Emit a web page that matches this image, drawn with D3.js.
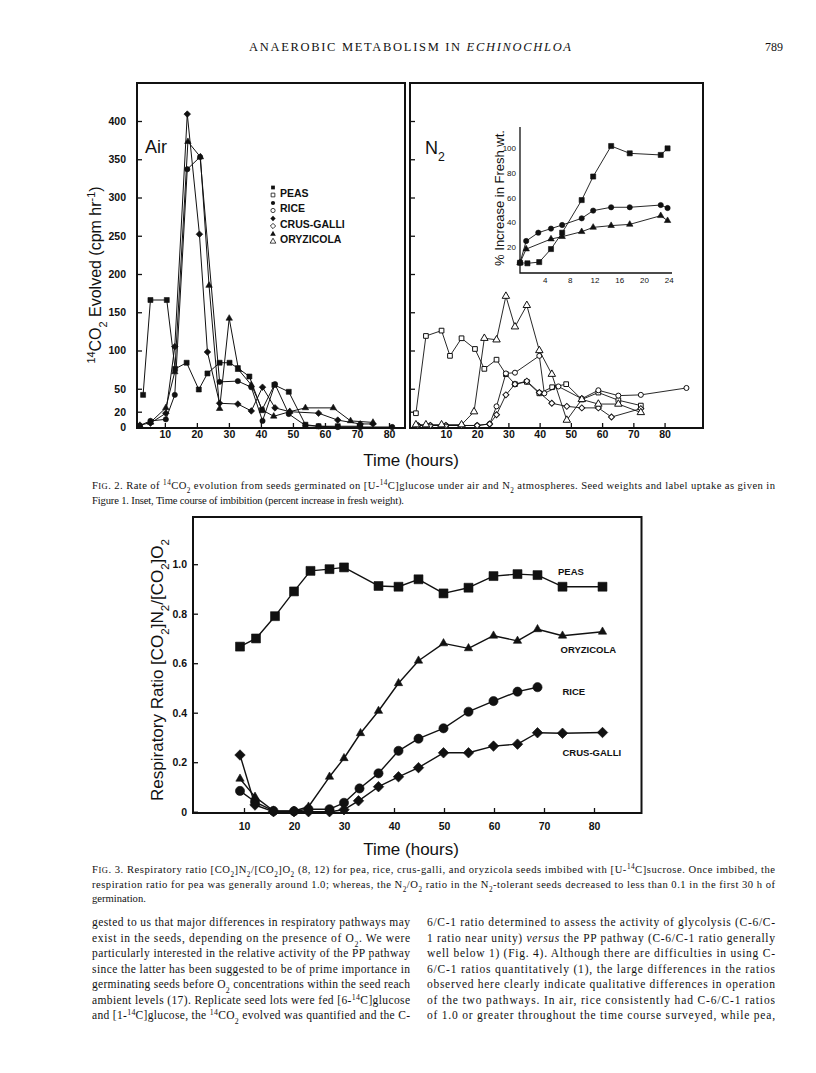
<!DOCTYPE html>
<html><head><meta charset="utf-8">
<script src="https://cdn.jsdelivr.net/npm/d3@7"></script>
<style>body{margin:0;background:#fff} svg{display:block} text{white-space:pre}</style>
</head><body>
<svg id="c" width="816" height="1073"></svg>
<script>
// ---------- DATA ----------
// Fig. 2 axes
const fig2YTicks = [0,20,50,100,150,200,250,300,350,400];
const fig2XTicks = [10,20,30,40,50,60,70,80];
// Fig. 2 Air panel [hour, cpm/hr]
const airPeas = [[3.2,42],[5.5,166],[10.6,166],[13.2,76],[16.8,84],[20.6,49],[23.3,70],[27.1,84],[30.2,84],[32.8,77],[36.4,66],[40.3,22],[44.2,55],[48.7,46],[53.9,3],[58,1],[64,1],[71,1]];
const airRice = [[2.2,2],[5.5,8],[10.3,10],[13.1,42],[17.0,337],[21.0,353],[27.1,59],[32.8,60],[37.0,52],[40.5,8],[44.4,56],[48.7,17],[53.9,2],[58,1],[64,0],[71,0],[81,0]];
const airCrus = [[5.5,5],[10.3,18],[13.1,105],[17.0,409],[20.8,252],[23.3,98],[27.1,31],[32.8,30],[37.0,21],[40.5,52],[44.4,25],[49,20],[58,18],[64,9],[71,4],[75,4]];
const airOry  = [[2.2,2],[5.5,6],[10.3,25],[13.1,72],[17.2,373],[21.1,353],[23.8,185],[27.1,24],[30.1,142],[33,75],[37,55],[40.5,22],[44,14],[49,20],[53.9,25],[62.6,25],[68,8],[75,6]];
// Fig. 2 N2 panel [hour, cpm/hr]
const n2Peas = [[0.4,18],[3.6,119],[8.6,126],[11.3,93],[15,116],[19.3,102],[22.3,76],[26.2,88],[29.2,69],[32.1,56],[35.9,59],[39.9,44],[44,52],[48.5,56],[53.5,36],[58.8,45],[65.2,35],[72.4,28]];
const n2Rice = [[1,2],[5,2],[10,2],[15,2],[20,2],[24,4],[26.2,27],[29.2,70],[32.1,71],[39.9,93],[41.5,44],[46,53],[53.5,37],[58.8,48],[65.2,41],[72.4,42],[87,51]];
const n2Crus = [[1,2],[5,2],[10,2],[15,2],[20,2],[24,4],[26.2,16],[29.2,42],[32.1,56],[35.9,60],[39.9,45],[43.9,31],[48.7,27],[53.5,25],[58.8,25],[63,13],[72.4,24]];
const n2Ory  = [[0.4,3],[3.6,3],[8.6,3],[15,3],[19,20],[22.3,116],[26.2,114],[29.2,171],[32.1,131],[35.9,159],[39.9,100],[43.9,69],[48.7,9],[53.5,36],[58.8,30],[65.2,30],[72.4,19]];
// Inset: % increase in fresh wt
const insetXTicks = [4,8,12,16,20,24];
const insetYTicks = [20,40,60,80,100];
const insetPeasHours = [0,1.2,3.1,5,6.8,9.95,11.8,14.7,17.7,22.7,23.8];
const insetPeasPct   = [7.5,7,8,18.5,31.7,58,77,101.6,95.7,94.4,99.7];
const insetRiceHours = [0,1,2.95,5,6.8,9.95,11.8,14.7,17.7,22.7,23.8];
const insetRicePct   = [7.5,25,31.7,35,37.9,43.3,49.5,52.2,52.2,54,51.6];
const insetOryHours  = [0,1,5,6.8,9.95,11.8,14.7,17.7,22.7,23.8];
const insetOryPct    = [7.5,18.5,26.6,28.5,32.5,36,37.4,38.4,45.4,41.4];
// Fig. 3
const fig3XTicks = [10,20,30,40,50,60,70,80];
const fig3YTicks = [0,0.2,0.4,0.6,0.8,1.0];
const fig3PeasHours = [9.2,12.4,16.2,20,23.3,27.1,30,36.9,40.9,44.9,49.9,54.9,59.9,64.7,68.7,73.7,81.7];
const fig3PeasRatio = [0.667,0.70,0.79,0.89,0.973,0.98,0.987,0.912,0.909,0.939,0.882,0.905,0.952,0.96,0.956,0.909,0.909];
const fig3OryHours  = [9.2,12.2,15.9,20,22.9,27.1,30,33.3,36.9,40.9,44.9,49.9,54.9,59.9,64.7,68.7,73.7,81.7];
const fig3OryRatio  = [0.133,0.06,0.004,0.003,0.02,0.141,0.216,0.317,0.407,0.519,0.61,0.68,0.66,0.711,0.69,0.737,0.711,0.727];
const fig3RiceHours = [9.2,12.2,15.9,20,22.9,27.1,30,33.1,36.9,40.9,44.9,49.9,54.9,59.9,64.7,68.7];
const fig3RiceRatio = [0.084,0.04,0.003,0.002,0.01,0.01,0.036,0.094,0.155,0.246,0.295,0.337,0.404,0.447,0.485,0.503];
const fig3CrusHours = [9.2,12.2,15.9,20,22.9,27.1,30,32.9,36.9,40.9,44.9,49.9,54.9,59.9,64.7,68.7,73.7,81.7];
const fig3CrusRatio = [0.229,0.027,0,0,0,0,0.008,0.044,0.101,0.141,0.178,0.238,0.238,0.265,0.273,0.319,0.317,0.32];
const fig3Labels = ['PEAS','ORYZICOLA','RICE','CRUS-GALLI'];
const legendLabels = ['PEAS','RICE','CRUS-GALLI','ORYZICOLA'];

// ---------- HELPERS ----------
const svg = d3.select('#c');
svg.append('rect').attr('width',816).attr('height',1073).attr('fill','#fff');
const SANS = "'Liberation Sans', Arial, sans-serif";
const SERIF = "'Liberation Serif', 'Times New Roman', serif";
const INK = '#111';

function zip(h, v){ return h.map((d,i)=>[d, v[i]]); }

function marker(shape, size){
  if (shape==='diamond') return d3.symbol().type(d3.symbolSquare).size(size)();
  const m = {square:d3.symbolSquare, circle:d3.symbolCircle, triangle:d3.symbolTriangle}[shape];
  return d3.symbol().type(m).size(size)();
}
function series(g, data, x, y, shape, filled, size, lw){
  g.append('path').datum(data)
    .attr('d', d3.line().x(d=>x(d[0])).y(d=>y(d[1])))
    .attr('fill','none').attr('stroke',INK).attr('stroke-width',lw).attr('stroke-linejoin','round');
  g.selectAll(null).data(data).enter().append('path')
    .attr('d', marker(shape,size))
    .attr('transform', d=>`translate(${x(d[0])},${y(d[1])})` + (shape==='diamond'?' rotate(45)':''))
    .attr('fill', filled?INK:'#fff').attr('stroke',INK).attr('stroke-width', filled?0.6:1);
}
function rich(parent, x, y, segs, fs, family, opts={}){
  const t = parent.append('text').attr('x',x).attr('y',y)
    .attr('font-family',family).attr('font-size',fs).attr('fill',INK);
  if (opts.anchor) t.attr('text-anchor',opts.anchor);
  if (opts.weight) t.attr('font-weight',opts.weight);
  segs.forEach(s=>{
    const [str, st] = typeof s==='string' ? [s,'n'] : s;
    const ts = t.append('tspan').text(str);
    if (st==='sup') ts.attr('baseline-shift','super').attr('font-size',fs*0.68);
    if (st==='sub') ts.attr('baseline-shift','sub').attr('font-size',fs*0.68);
    if (st==='i') ts.attr('font-style','italic');
    if (st==='sc') ts.attr('font-size',fs*0.8);
  });
  if (opts.width) t.attr('textLength',opts.width).attr('lengthAdjust','spacing');
  return t;
}
function styleAxis(g, fs, weight){
  g.select('.domain').remove();
  g.selectAll('.tick line').attr('stroke',INK).attr('stroke-width',1.3);
  g.selectAll('.tick text').attr('font-family',SANS).attr('font-size',fs).attr('font-weight',weight).attr('fill',INK);
}

// ---------- HEADER ----------
rich(svg, 249, 51, ['ANAEROBIC METABOLISM IN ',['ECHINOCHLOA','i']], 12.5, SERIF, {width:322});
rich(svg, 783, 51, ['789'], 12, SERIF, {anchor:'end'});

// ---------- FIG 2 ----------
const yF2 = d3.scaleLinear().domain([0,400]).range([427,121]);
const xAir = d3.scaleLinear().domain([1.3,85]).range([137,405]);
const xN2 = d3.scaleLinear().domain([-1.5,92.3]).range([410,703]);

const f2 = svg.append('g');
f2.append('rect').attr('x',137).attr('y',83).attr('width',268).attr('height',345)
  .attr('fill','none').attr('stroke',INK).attr('stroke-width',2);
f2.append('rect').attr('x',410).attr('y',83).attr('width',293).attr('height',345)
  .attr('fill','none').attr('stroke',INK).attr('stroke-width',2);

styleAxis(f2.append('g').attr('transform','translate(137,0)')
  .call(d3.axisLeft(yF2).tickValues(fig2YTicks).tickSize(-5).tickPadding(11)), 10.5, 'bold');
styleAxis(f2.append('g').attr('transform','translate(410,0)')
  .call(d3.axisLeft(yF2).tickValues(fig2YTicks.slice(1)).tickSize(-5).tickFormat('')), 10, 'bold');
styleAxis(f2.append('g').attr('transform','translate(0,428)')
  .call(d3.axisBottom(xAir).tickValues(fig2XTicks).tickSize(-5).tickPadding(3)), 10.5, 'bold');
styleAxis(f2.append('g').attr('transform','translate(0,428)')
  .call(d3.axisBottom(xN2).tickValues(fig2XTicks).tickSize(-5).tickPadding(3)), 10.5, 'bold');

const gAir = f2.append('g');
series(gAir, airPeas, xAir, yF2, 'square', true, 25, 1);
series(gAir, airRice, xAir, yF2, 'circle', true, 22, 1);
series(gAir, airCrus, xAir, yF2, 'diamond', true, 22, 1);
series(gAir, airOry, xAir, yF2, 'triangle', true, 18, 1);

const gN2 = f2.append('g');
series(gN2, n2Peas, xN2, yF2, 'square', false, 22, 0.9);
series(gN2, n2Rice, xN2, yF2, 'circle', false, 20, 0.9);
series(gN2, n2Crus, xN2, yF2, 'diamond', false, 18, 0.9);
series(gN2, n2Ory, xN2, yF2, 'triangle', false, 24, 0.9);

rich(f2, 145, 153, ['Air'], 18, SANS);
rich(f2, 425, 154, ['N',['2','sub']], 18, SANS);

// legend
const legShapes = ['square','circle','diamond','triangle'];
legendLabels.forEach((lab,i)=>{
  const cy = 192.5 + i*15.5;
  f2.append('path').attr('d',marker(legShapes[i],14))
    .attr('transform',`translate(273,${cy-5})`+(legShapes[i]==='diamond'?' rotate(45)':'')).attr('fill',INK);
  f2.append('path').attr('d',marker(legShapes[i],14))
    .attr('transform',`translate(273,${cy+2.5})`+(legShapes[i]==='diamond'?' rotate(45)':''))
    .attr('fill','#fff').attr('stroke',INK).attr('stroke-width',0.8);
  rich(f2, 280, cy+4, [lab], 10.5, SANS, {weight:'bold'});
});

// y label fig 2
const yl2 = f2.append('g').attr('transform','translate(101,275) rotate(-90)');
rich(yl2, 0, 0, [['14','sup'],'CO',['2','sub'],' Evolved (cpm hr',['-1','sup'],')'], 16, SANS, {anchor:'middle'});
rich(f2, 411, 466, ['Time (hours)'], 17, SANS, {anchor:'middle'});

// inset
const xIn = d3.scaleLinear().domain([0,24]).range([520,668.8]);
const yIn = d3.scaleLinear().domain([0,100]).range([272,148]);
const gIn = f2.append('g');
gIn.append('path').attr('d','M520,127V273H672').attr('fill','none').attr('stroke',INK).attr('stroke-width',1.3);
styleAxis(gIn.append('g').attr('transform','translate(520,0)')
  .call(d3.axisLeft(yIn).tickValues(insetYTicks).tickSize(0).tickPadding(4)), 8, 'normal');
styleAxis(gIn.append('g').attr('transform','translate(0,273)')
  .call(d3.axisBottom(xIn).tickValues(insetXTicks).tickSize(0).tickPadding(4)), 8, 'normal');
series(gIn, zip(insetPeasHours,insetPeasPct), xIn, yIn, 'square', true, 26, 0.9);
series(gIn, zip(insetRiceHours,insetRicePct), xIn, yIn, 'circle', true, 22, 0.9);
series(gIn, zip(insetOryHours,insetOryPct), xIn, yIn, 'triangle', true, 18, 0.9);
const yli = gIn.append('g').attr('transform','translate(504,198) rotate(-90)');
rich(yli, 0, 0, ['% Increase in Fresh wt.'], 13, SANS, {anchor:'middle'});

// caption fig 2
rich(svg, 92, 489, [['F','n'],['IG','sc'],'. 2. Rate of ',['14','sup'],'CO',['2','sub'],' evolution from seeds germinated on [U-',['14','sup'],'C]glucose under air and N',['2','sub'],' atmospheres. Seed weights and label uptake as given in'], 10.6, SERIF, {width:683});
rich(svg, 92, 503.5, ['Figure 1. Inset, Time course of imbibition (percent increase in fresh weight).'], 10.6, SERIF, {width:312});

// ---------- FIG 3 ----------
const x3 = d3.scaleLinear().domain([0,89.5]).range([194,641.5]);
const y3 = d3.scaleLinear().domain([0,1]).range([811.7,564.2]);
const f3 = svg.append('g');
f3.append('rect').attr('x',193).attr('y',517).attr('width',448.5).attr('height',296)
  .attr('fill','none').attr('stroke',INK).attr('stroke-width',2);
styleAxis(f3.append('g').attr('transform','translate(193,0)')
  .call(d3.axisLeft(y3).tickValues(fig3YTicks).tickSize(-5).tickPadding(6)
  .tickFormat(d=>d===0?'0':d3.format('.1f')(d))), 10.5, 'bold');
styleAxis(f3.append('g').attr('transform','translate(0,813)')
  .call(d3.axisBottom(x3).tickValues(fig3XTicks).tickSize(-5).tickPadding(10)), 10.5, 'bold');

series(f3, zip(fig3PeasHours,fig3PeasRatio), x3, y3, 'square', true, 80, 1.4);
series(f3, zip(fig3OryHours,fig3OryRatio), x3, y3, 'triangle', true, 30, 1.4);
series(f3, zip(fig3RiceHours,fig3RiceRatio), x3, y3, 'circle', true, 66, 1.4);
series(f3, zip(fig3CrusHours,fig3CrusRatio), x3, y3, 'diamond', true, 55, 1.4);

const labY = [0.955, 0.64, 0.47, 0.225];
const labX = [72.8, 73.3, 73.7, 73.7];
fig3Labels.forEach((l,i)=> rich(f3, x3(labX[i]), y3(labY[i]), [l], 9.5, SANS, {weight:'bold'}));

const yl3 = f3.append('g').attr('transform','translate(163,670) rotate(-90)');
rich(yl3, 0, 0, ['Respiratory Ratio [CO',['2','sub'],']N',['2','sub'],'/[CO',['2','sub'],']O',['2','sub']], 17, SANS, {anchor:'middle'});
rich(f3, 411, 855, ['Time (hours)'], 17, SANS, {anchor:'middle'});

// caption fig 3
rich(svg, 92, 873, [['F','n'],['IG','sc'],'. 3. Respiratory ratio [CO',['2','sub'],']N',['2','sub'],'/[CO',['2','sub'],']O',['2','sub'],' (8, 12) for pea, rice, crus-galli, and oryzicola seeds imbibed with [U-',['14','sup'],'C]sucrose. Once imbibed, the'], 10.6, SERIF, {width:683});
rich(svg, 92, 887.5, ['respiration ratio for pea was generally around 1.0; whereas, the N',['2','sub'],'/O',['2','sub'],' ratio in the N',['2','sub'],'-tolerant seeds decreased to less than 0.1 in the first 30 h of'], 10.6, SERIF, {width:683});
rich(svg, 92, 902, ['germination.'], 10.6, SERIF);

// ---------- BODY TEXT ----------
const leftCol = [
  ['gested to us that major differences in respiratory pathways may'],
  ['exist in the seeds, depending on the presence of O',['2','sub'],'. We were'],
  ['particularly interested in the relative activity of the PP pathway'],
  ['since the latter has been suggested to be of prime importance in'],
  ['germinating seeds before O',['2','sub'],' concentrations within the seed reach'],
  ['ambient levels (17). Replicate seed lots were fed [6-',['14','sup'],'C]glucose'],
  ['and [1-',['14','sup'],'C]glucose, the ',['14','sup'],'CO',['2','sub'],' evolved was quantified and the C-']
];
const rightCol = [
  ['6/C-1 ratio determined to assess the activity of glycolysis (C-6/C-'],
  ['1 ratio near unity) ',['versus','i'],' the PP pathway (C-6/C-1 ratio generally'],
  ['well below 1) (Fig. 4). Although there are difficulties in using C-'],
  ['6/C-1 ratios quantitatively (1), the large differences in the ratios'],
  ['observed here clearly indicate qualitative differences in operation'],
  ['of the two pathways. In air, rice consistently had C-6/C-1 ratios'],
  ['of 1.0 or greater throughout the time course surveyed, while pea,']
];
leftCol.forEach((segs,i)=> rich(svg, 92, 926 + i*15.5, segs, 11.5, SERIF, {width:318}));
rightCol.forEach((segs,i)=> rich(svg, 427, 926 + i*15.5, segs, 11.5, SERIF, {width:348}));
</script>
</body></html>
